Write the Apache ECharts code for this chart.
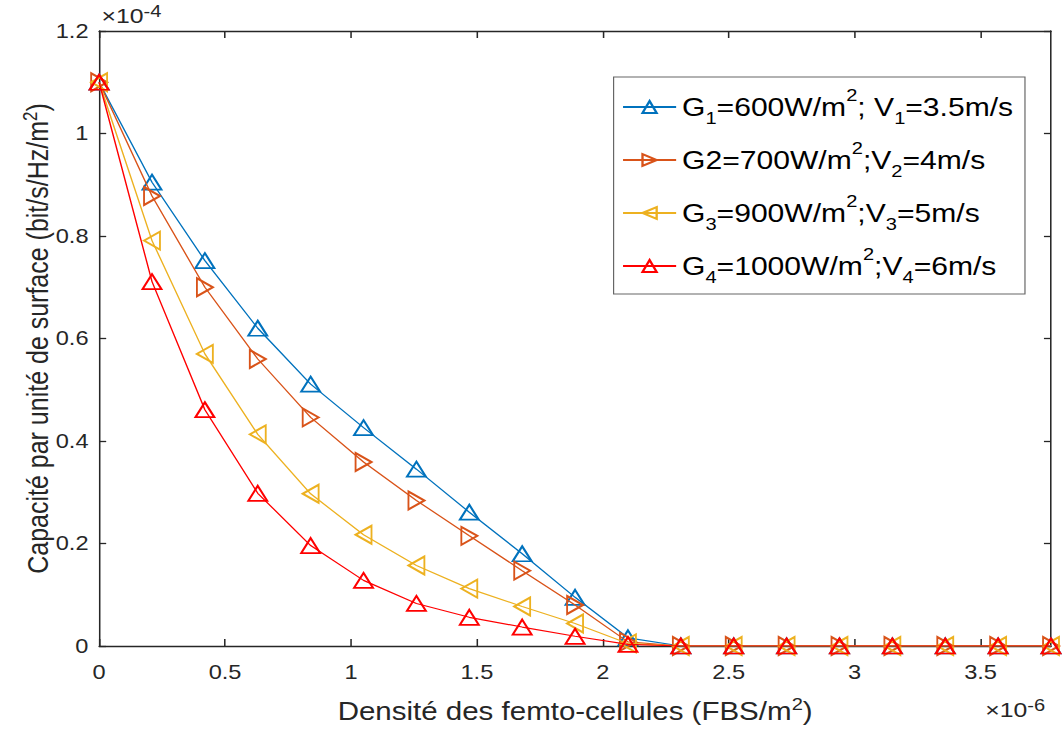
<!DOCTYPE html>
<html>
<head>
<meta charset="utf-8">
<script src="https://cdn.jsdelivr.net/npm/echarts@6/dist/echarts.min.js"></script>
<style>
  html, body { margin: 0; padding: 0; background: #fff; overflow: hidden; }
  #chart { width: 900px; height: 731px; transform: scaleX(1.18); transform-origin: 0 0; }
</style>
</head>
<body>
<div id="chart"></div>
<script>
// ---- data (x in units of 1e-6 FBS/m^2, y in units of 1e-4 bit/s/Hz/m^2) ----
const xValues = [0, 0.21, 0.42, 0.63, 0.84, 1.05, 1.26, 1.47, 1.68, 1.89, 2.10, 2.31, 2.52, 2.73, 2.94, 3.15, 3.36, 3.57, 3.78];
const seriesG1 = [1.10, 0.905, 0.752, 0.620, 0.511, 0.426, 0.345, 0.261, 0.180, 0.095, 0.016, 0, 0, 0, 0, 0, 0, 0, 0];
const seriesG2 = [1.10, 0.878, 0.700, 0.560, 0.446, 0.359, 0.284, 0.215, 0.147, 0.080, 0.008, 0, 0, 0, 0, 0, 0, 0, 0];
const seriesG3 = [1.10, 0.791, 0.570, 0.413, 0.297, 0.217, 0.157, 0.112, 0.077, 0.044, 0.005, 0, 0, 0, 0, 0, 0, 0, 0];
const seriesG4 = [1.10, 0.711, 0.461, 0.298, 0.196, 0.128, 0.083, 0.056, 0.037, 0.019, 0.003, 0, 0, 0, 0, 0, 0, 0, 0];
const seriesNames = ['G1', 'G2', 'G3', 'G4'];
const legendLabels = [
  'G{sub|1}=600W/m{sup|2}; V{sub|1}=3.5m/s',
  'G2=700W/m{sup|2};V{sub|2}=4m/s',
  'G{sub|3}=900W/m{sup|2};V{sub|3}=5m/s',
  'G{sub|4}=1000W/m{sup|2};V{sub|4}=6m/s'
];
const xTicks = [0, 0.5, 1, 1.5, 2, 2.5, 3, 3.5];
const yTicks = [0, 0.2, 0.4, 0.6, 0.8, 1, 1.2];
const xTitle = 'Densité des femto-cellules (FBS/m{sup|2})';
const yTitle = 'Capacité par unité de surface (bit/s/Hz/m{sup|2})';
const xExponent = '{x|×}{b|10}{s|-6}';
const yExponent = '{x|×}{b|10}{s|-4}';

// ---- styling ----
const FONT = "'Liberation Sans', Arial, Helvetica, sans-serif";
const AX = '#262626';
const colors = ['#0072BD', '#D95319', '#EDB120', '#FF0000'];
const rotations = [0, -90, 90, 0];
const sizes = [[16, 15], [18, 13.5], [18, 13.5], [16, 15]];
const allSeries = [seriesG1, seriesG2, seriesG3, seriesG4];

const supRich = { sup: { fontSize: 17, lineHeight: 14, verticalAlign: 'top', fontFamily: FONT, color: AX } };
const expRich = {
  x: { fontSize: 21, lineHeight: 26, fontFamily: FONT, color: AX },
  b: { fontSize: 21, lineHeight: 26, fontFamily: FONT, color: AX },
  s: { fontSize: 17, lineHeight: 13, verticalAlign: 'top', fontFamily: FONT, color: AX }
};

const chart = echarts.init(document.getElementById('chart'), null, { renderer: 'svg' });

function baseX(pos) {
  return {
    type: 'value', min: 0, max: 3.78, interval: 0.5, position: pos,
    axisLine: { show: true, onZero: false, lineStyle: { color: AX, width: 1.3 } },
    axisTick: { show: true, inside: true, length: 7, customValues: xTicks, lineStyle: { color: AX, width: 1.3 } },
    splitLine: { show: false }
  };
}
function baseY(pos) {
  return {
    type: 'value', min: 0, max: 1.2, interval: 0.2, position: pos,
    axisLine: { show: true, onZero: false, lineStyle: { color: AX, width: 1.3 } },
    axisTick: { show: true, inside: true, length: 6, customValues: yTicks, lineStyle: { color: AX, width: 1.3 } },
    splitLine: { show: false }
  };
}

const xMain = Object.assign(baseX('bottom'), {
  axisLabel: { customValues: xTicks, formatter: v => String(v), color: AX, fontSize: 20, fontFamily: FONT, margin: 16 },
  name: xTitle, nameLocation: 'middle', nameGap: 50, nameMoveOverlap: false,
  nameTextStyle: { fontSize: 25, color: AX, fontFamily: FONT, lineHeight: 30, rich: supRich }
});
const xTop = Object.assign(baseX('top'), { axisLabel: { show: false } });
const yMain = Object.assign(baseY('left'), {
  axisLabel: { customValues: yTicks, formatter: v => String(v), color: AX, fontSize: 20, fontFamily: FONT, margin: 9 },
  name: yTitle, nameLocation: 'middle', nameGap: 37, nameMoveOverlap: false,
  nameTextStyle: { fontSize: 25, color: AX, fontFamily: FONT, lineHeight: 30, rich: supRich }
});
const yRight = Object.assign(baseY('right'), { axisLabel: { show: false } });

const option = {
  animation: false,
  backgroundColor: '#ffffff',
  grid: { left: 84, right: 9.3, top: 31, bottom: 81, containLabel: false },
  xAxis: [xMain, xTop],
  yAxis: [yMain, yRight],
  legend: {
    orient: 'vertical', left: 520, top: 77,
    padding: [10, 10, 8, 7], itemGap: 13, itemWidth: 45, itemHeight: 15,
    borderColor: '#666', borderWidth: 1, backgroundColor: '#fff',
    data: seriesNames,
    formatter: name => legendLabels[seriesNames.indexOf(name)],
    textStyle: {
      fontSize: 25.5, color: '#000', fontFamily: FONT, lineHeight: 40,
      rich: {
        sub: { fontSize: 17, lineHeight: 16, verticalAlign: 'bottom', fontFamily: FONT, color: '#000' },
        sup: { fontSize: 17, lineHeight: 16, verticalAlign: 'top', fontFamily: FONT, color: '#000' }
      }
    }
  },
  graphic: [
    { type: 'text', left: 86, top: 3, style: { text: yExponent, rich: expRich, fill: AX } },
    { type: 'text', left: 835, top: 697, style: { text: xExponent, rich: expRich, fill: AX } }
  ],
  series: allSeries.map((vals, k) => ({
    name: seriesNames[k],
    type: 'line',
    xAxisIndex: 0, yAxisIndex: 0,
    data: xValues.map((xv, i) => [xv, vals[i]]),
    symbol: 'triangle',
    symbolSize: sizes[k],
    symbolRotate: rotations[k],
    showAllSymbol: true,
    lineStyle: { color: colors[k], width: 1.2 },
    itemStyle: { color: 'rgba(255,255,255,0)', borderColor: colors[k], borderWidth: 1.8 },
    emphasis: { disabled: true },
    z: 2 + k
  }))
};
chart.setOption(option);
</script>
</body>
</html>
